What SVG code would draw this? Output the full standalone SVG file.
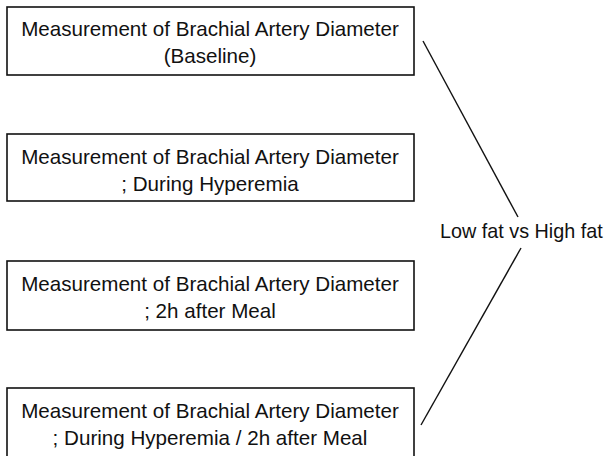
<svg xmlns="http://www.w3.org/2000/svg" width="610" height="456" viewBox="0 0 610 456">
<style>
.box{fill:#fff;stroke:#111;stroke-width:1.6}
.t{font-family:"Liberation Sans",Arial,sans-serif;font-size:20.6px;fill:#111;text-anchor:middle}
.lbl{font-family:"Liberation Sans",Arial,sans-serif;font-size:19.8px;fill:#111}
.c{stroke:#111;stroke-width:1.4;fill:none}
</style>
<rect width="610" height="456" fill="#fff"/>
<g id="node1">
<rect class="box" x="7" y="7" width="407" height="68"/>
<text class="t" x="210" y="36">Measurement of Brachial Artery Diameter</text>
<text class="t" x="210" y="63">(Baseline)</text>
</g>
<g id="node2">
<rect class="box" x="7" y="134" width="407" height="67"/>
<text class="t" x="210" y="164">Measurement of Brachial Artery Diameter</text>
<text class="t" x="210" y="191">; During Hyperemia</text>
</g>
<g id="node3">
<rect class="box" x="7" y="261" width="407" height="69"/>
<text class="t" x="210" y="291">Measurement of Brachial Artery Diameter</text>
<text class="t" x="210" y="318">; 2h after Meal</text>
</g>
<g id="node4">
<rect class="box" x="7" y="388" width="407" height="75"/>
<text class="t" x="210" y="418">Measurement of Brachial Artery Diameter</text>
<text class="t" x="210" y="445">; During Hyperemia / 2h after Meal</text>
</g>
<g id="label">
<text class="lbl" x="440" y="238">Low fat vs High fat</text>
</g>
<g id="connectors">
<line class="c" x1="423" y1="41" x2="518" y2="217"/>
<line class="c" x1="521" y1="248" x2="421" y2="425"/>
</g>
</svg>
